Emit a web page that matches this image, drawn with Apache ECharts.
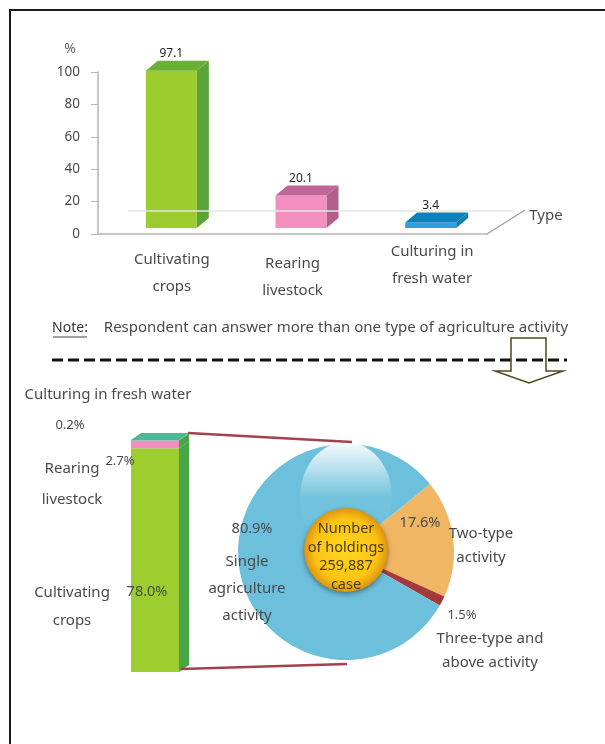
<!DOCTYPE html>
<html><head><meta charset="utf-8">
<style>html,body{margin:0;padding:0;background:#fff}#c{width:605px;height:744px;filter:blur(.5px)}</style>
<script src="https://cdn.jsdelivr.net/npm/echarts@6/dist/echarts.min.js"></script>
</head><body><div id="c"></div>
<script>
// ---- data ----
const typeCategories = ['Cultivating\ncrops', 'Rearing\nlivestock', 'Culturing in\nfresh water'];
const typeValues = [97.1, 20.1, 3.4];
const typeAxisName = 'Type';
const yTicks = [0, 20, 40, 60, 80, 100];
const stackNames = ['Cultivating\ncrops', 'Rearing\nlivestock', 'Culturing in fresh water'];
const stackValues = [78.0, 2.7, 0.2];
const pieNames = ['Two-type\nactivity', 'Three-type and\nabove activity', 'Single\nagriculture\nactivity'];
const pieValues = [17.6, 1.5, 80.9];
const centerText = 'Number\nof holdings\n259,887\ncase';
const noteLabel = 'Note:';
const noteText = 'Respondent can answer more than one type of agriculture activity';

// ---- styles ----
const FONT = '"Noto Sans", sans-serif';
const INK = '#4a4a4a';
const typeColors = [
  {front:'#9ccb2e', side:'#5aa437', top:'#69b034'},
  {front:'#f390c0', side:'#b0608a', top:'#c0679a'},
  {front:'#2f9fdf', side:'#0f7fa8', top:'#0c80b8'}
];
const stackColors = [
  {front:'#9dce2f', side:'#46a648', top:'#46a648'},
  {front:'#ee8fc0', side:'#46a648', top:'#46a648'},
  {front:'#4db894', side:'#3fa87a', top:'#4db894'}
];
const pieColors = ['#f0b664', '#a5383a', '#6cc0dc'];

function box(x0, x1, yTop, yBot, dx, dy, c, withTop) {
  const kids = [
    {type:'polygon', shape:{points:[[x1,yBot],[x1+dx,yBot-dy],[x1+dx,yTop-dy],[x1,yTop]]}, style:{fill:c.side}},
    {type:'rect', shape:{x:x0,y:yTop,width:x1-x0,height:yBot-yTop}, style:{fill:c.front}}
  ];
  if (withTop) kids.push({type:'polygon', shape:{points:[[x0,yTop],[x0+dx,yTop-dy],[x1+dx,yTop-dy],[x1,yTop]]}, style:{fill:c.top}});
  return kids;
}

function renderType(params, api) {
  const i = api.value(0), v = api.value(1);
  const p0 = api.coord([i, 0]), p1 = api.coord([i, v]);
  const cx = p0[0] + 8.5, hw = 25.5, lift = 6, dx = 12, dy = 10;
  const kids = box(cx-hw, cx+hw, p1[1]-lift, p0[1]-lift, dx, dy, typeColors[i], true);
  kids.push({type:'text', style:{text:String(v), x:cx, y:p1[1]-lift-dy-1, align:'center', verticalAlign:'bottom',
    font:'12px '+FONT, fill:'#222'}});
  return {type:'group', children:kids};
}

function renderStack(params, api) {
  const idx = params.dataIndex;
  const from = api.value(1), to = api.value(2);
  const p0 = api.coord([0, from]), p1 = api.coord([0, to]);
  const w = api.size([1, 0])[0];
  const cx = p0[0];
  return {type:'group', children: box(cx-w/2, cx+w/2, p1[1], p0[1], 10, 7, stackColors[idx], idx === stackValues.length-1)};
}
let cum = 0;
const stackData = stackValues.map((v,i)=>{const r=[0,cum,cum+v]; cum+=v; return r;});

function t(text, x, y, extra) {
  return Object.assign({type:'text', z:100, silent:true, style:Object.assign({
    text, x, y, align:'center', verticalAlign:'middle', font:'15px '+FONT, fill:INK, lineHeight:27
  }, extra||{})});
}
const F13 = {font:'13px '+FONT};
const F14 = {font:'14.5px '+FONT};
const line = (x1,y1,x2,y2,stroke,lineWidth,extra) => ({type:'line', z:20, silent:true, shape:{x1,y1,x2,y2},
  style:Object.assign({stroke,lineWidth},extra||{})});

const chart = echarts.init(document.getElementById('c'), null, {renderer:'canvas'});
chart.setOption({
  animation:false,
  backgroundColor:'#fff',
  textStyle:{fontFamily:FONT},
  grid:[
    {left:98, top:72, width:389, height:162},
    {left:131, top:440, width:48, height:232}
  ],
  xAxis:[
    {gridIndex:0, type:'category', data:[
        {value:typeCategories[0], textStyle:{padding:[8,0,0,18]}},
        {value:typeCategories[1], textStyle:{padding:[12,0,0,0]}},
        {value:typeCategories[2], textStyle:{padding:[0,0,0,20]}}],
      axisLine:{lineStyle:{color:'#b5b5b5', width:1.5}}, axisTick:{show:false},
      axisLabel:{color:INK, fontSize:15, lineHeight:27, margin:4, interval:0}},
    {gridIndex:1, type:'category', data:['stack'], show:false}
  ],
  yAxis:[
    {gridIndex:0, type:'value', min:yTicks[0], max:yTicks[yTicks.length-1], interval:yTicks[1]-yTicks[0],
      name:'%', nameGap:16, nameTextStyle:{color:'#666', fontSize:14, fontFamily:FONT, padding:[0,56,0,0]},
      axisLine:{show:true, lineStyle:{color:'#b5b5b5', width:1.5}},
      axisTick:{show:true, length:7, lineStyle:{color:'#b5b5b5'}},
      splitLine:{show:false}, axisLabel:{color:INK, fontSize:13.5, margin:18}},
    {gridIndex:1, type:'value', min:0, max:cum, show:false}
  ],
  series:[
    {type:'custom', xAxisIndex:0, yAxisIndex:0, renderItem:renderType, encode:{x:0,y:1},
      data:typeValues.map((v,i)=>[i,v]), silent:true, z:5},
    {type:'custom', xAxisIndex:1, yAxisIndex:1, renderItem:renderStack, encode:{x:0,y:[1,2]},
      data:stackData, silent:true, z:5},
    {type:'pie', center:[346,552], radius:[0,108], startAngle:39, clockwise:true, silent:true, z:2,
      label:{show:false}, labelLine:{show:false},
      data:pieValues.map((v,i)=>({name:pieNames[i], value:v, itemStyle:{color:pieColors[i]}}))},
    {type:'pie', center:[346,550], radius:[0,42], silent:true, z:6, label:{show:false}, labelLine:{show:false},
      data:[{name:centerText, value:1, itemStyle:{
        color:{type:'radial',x:.5,y:.5,r:.5,colorStops:[{offset:0,color:'#ffd61e'},{offset:.75,color:'#fcc314'},{offset:1,color:'#dc950e'}]},
        shadowBlur:5, shadowColor:'rgba(0,0,0,.4)', shadowOffsetY:2}}]}
  ],
  graphic:{elements:[
    line(10,10,10,744,'#1a1a1a',2),
    line(9,10,605,10,'#1a1a1a',2),
    line(128,211,515,211,'#e6e6de',1.5),
    line(487,234,525,210,'#9a9a9a',1.2),
    line(188,433,352,442,'#a5404f',2.5),
    line(181,669,347,664,'#a5404f',2.5),
    line(52,360,567,360,'#111',3,{lineDash:[11,5]}),
    {type:'polygon', z:21, silent:true, shape:{points:[[511,338],[546,338],[546,371],[563,371],[529,383],[495,371],[511,371]]},
      style:{fill:'transparent', stroke:'#4f4a1e', lineWidth:1.5}},
    {type:'ellipse', z:4, silent:true, shape:{cx:346,cy:497,rx:46,ry:55},
      style:{fill:{type:'linear',x:0,y:0,x2:0,y2:1,colorStops:[{offset:0,color:'rgba(255,255,255,.95)'},{offset:.5,color:'rgba(255,255,255,.05)'},{offset:1,color:'rgba(255,255,255,0)'}]}}},
    t(typeAxisName,546,216),
    t(noteLabel,70,328,{fill:'#333',font:'14px '+FONT}),
    line(53,337,87,337,'#444',1),
    t(noteText,336,328),
    t(stackNames[2],108,395),
    t(stackValues[2].toFixed(1)+'%',70,425,F13),
    t(stackNames[1],72,484,{lineHeight:31}),
    t(stackValues[1].toFixed(1)+'%',120,461,F13),
    t(stackNames[0],72,607,{lineHeight:28}),
    t(stackValues[0].toFixed(1)+'%',147,592,F14),
    t(pieValues[2].toFixed(1)+'%',252,529,F14),
    t(pieNames[2],247,589,{lineHeight:27}),
    t(pieValues[0].toFixed(1)+'%',420,523,F14),
    t(pieNames[0],481,546,{lineHeight:24}),
    t(pieValues[1].toFixed(1)+'%',462,615,F13),
    t(pieNames[1],490,651,{lineHeight:24}),
    t(centerText,346,557,{lineHeight:18.5,fill:'#4a3a08',font:'14.5px '+FONT})
  ]}
});
</script></body></html>
